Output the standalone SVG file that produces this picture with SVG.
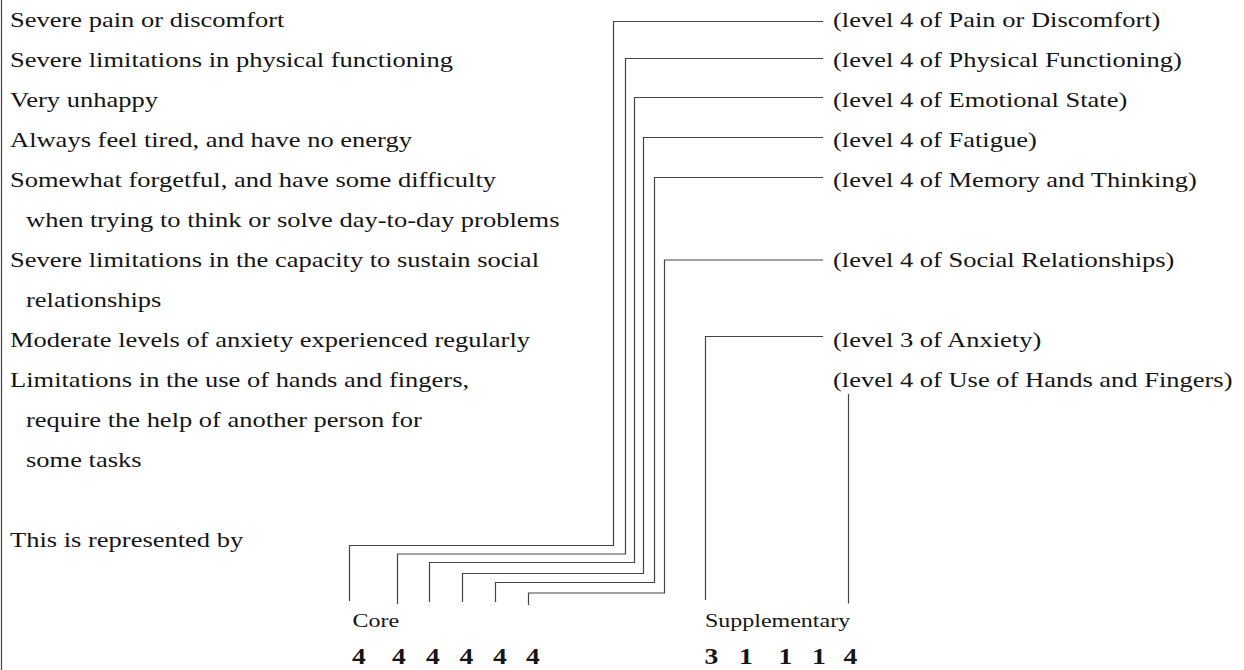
<svg xmlns="http://www.w3.org/2000/svg" width="1244" height="670" viewBox="0 0 1244 670">
<style>
  text { font-family: "Liberation Serif", "Times New Roman", serif; fill: #151515; }
  .t { font-size: 22px; }
  .s { font-size: 19.5px; }
  .d { font-size: 24px; font-weight: bold; }
  .ln { fill: none; stroke: #444; stroke-width: 1.2; }
</style>
<rect x="0" y="0" width="1244" height="670" fill="#fff"/>
<line x1="1.5" y1="0" x2="1.5" y2="670" class="ln"/>

<g id="descriptions">
  <text class="t" transform="matrix(1.205 0 0 1 10 27)">Severe pain or discomfort</text>
  <text class="t" transform="matrix(1.205 0 0 1 10 67)">Severe limitations in physical functioning</text>
  <text class="t" transform="matrix(1.205 0 0 1 10 107)">Very unhappy</text>
  <text class="t" transform="matrix(1.205 0 0 1 10 147)">Always feel tired, and have no energy</text>
  <text class="t" transform="matrix(1.205 0 0 1 10 187)">Somewhat forgetful, and have some difficulty</text>
  <text class="t" transform="matrix(1.205 0 0 1 26 227)">when trying to think or solve day-to-day problems</text>
  <text class="t" transform="matrix(1.205 0 0 1 10 267)">Severe limitations in the capacity to sustain social</text>
  <text class="t" transform="matrix(1.205 0 0 1 26 307)">relationships</text>
  <text class="t" transform="matrix(1.205 0 0 1 10 347)">Moderate levels of anxiety experienced regularly</text>
  <text class="t" transform="matrix(1.205 0 0 1 10 387)">Limitations in the use of hands and fingers,</text>
  <text class="t" transform="matrix(1.205 0 0 1 26 427)">require the help of another person for</text>
  <text class="t" transform="matrix(1.205 0 0 1 26 467)">some tasks</text>
  <text class="t" transform="matrix(1.205 0 0 1 10 547)">This is represented by</text>
</g>

<g id="levels">
  <text class="t" transform="matrix(1.205 0 0 1 833 27)">(level 4 of Pain or Discomfort)</text>
  <text class="t" transform="matrix(1.205 0 0 1 833 67)">(level 4 of Physical Functioning)</text>
  <text class="t" transform="matrix(1.205 0 0 1 833 107)">(level 4 of Emotional State)</text>
  <text class="t" transform="matrix(1.205 0 0 1 833 147)">(level 4 of Fatigue)</text>
  <text class="t" transform="matrix(1.205 0 0 1 833 187)">(level 4 of Memory and Thinking)</text>
  <text class="t" transform="matrix(1.205 0 0 1 833 267)">(level 4 of Social Relationships)</text>
  <text class="t" transform="matrix(1.205 0 0 1 833 347)">(level 3 of Anxiety)</text>
  <text class="t" transform="matrix(1.205 0 0 1 833 387)">(level 4 of Use of Hands and Fingers)</text>
</g>

<g id="core">
  <text class="s" transform="matrix(1.23 0 0 1 352.5 627)">Core</text>
  <text class="d" transform="matrix(1.15 0 0 1 352 664)">4</text>
  <text class="d" transform="matrix(1.15 0 0 1 392 664)">4</text>
  <text class="d" transform="matrix(1.15 0 0 1 426 664)">4</text>
  <text class="d" transform="matrix(1.15 0 0 1 459.5 664)">4</text>
  <text class="d" transform="matrix(1.15 0 0 1 493 664)">4</text>
  <text class="d" transform="matrix(1.15 0 0 1 526 664)">4</text>
</g>

<g id="supplementary">
  <text class="s" transform="matrix(1.23 0 0 1 705 627)">Supplementary</text>
  <text class="d" transform="matrix(1.15 0 0 1 704.5 664)">3</text>
  <text class="d" transform="matrix(1.15 0 0 1 739 664)">1</text>
  <text class="d" transform="matrix(1.15 0 0 1 778.5 664)">1</text>
  <text class="d" transform="matrix(1.15 0 0 1 812 664)">1</text>
  <text class="d" transform="matrix(1.15 0 0 1 843.5 664)">4</text>
</g>

<g id="connectors">
  <polyline class="ln" points="823,21.5 613.5,21.5 613.5,545.5 349.5,545.5 349.5,601"/>
  <polyline class="ln" points="823,58.5 625.5,58.5 625.5,554 397.5,554 397.5,604"/>
  <polyline class="ln" points="823,97.5 634.5,97.5 634.5,562.5 429.5,562.5 429.5,602"/>
  <polyline class="ln" points="823,137.5 643.5,137.5 643.5,573.5 462.5,573.5 462.5,602"/>
  <polyline class="ln" points="823,177.5 654.5,177.5 654.5,582.5 495.5,582.5 495.5,602"/>
  <polyline class="ln" points="823,260 664.5,260 664.5,593 528.5,593 528.5,605"/>
  <polyline class="ln" points="823,336.5 705.5,336.5 705.5,600"/>
  <polyline class="ln" points="848.5,394 848.5,603.5"/>
</g>
</svg>
